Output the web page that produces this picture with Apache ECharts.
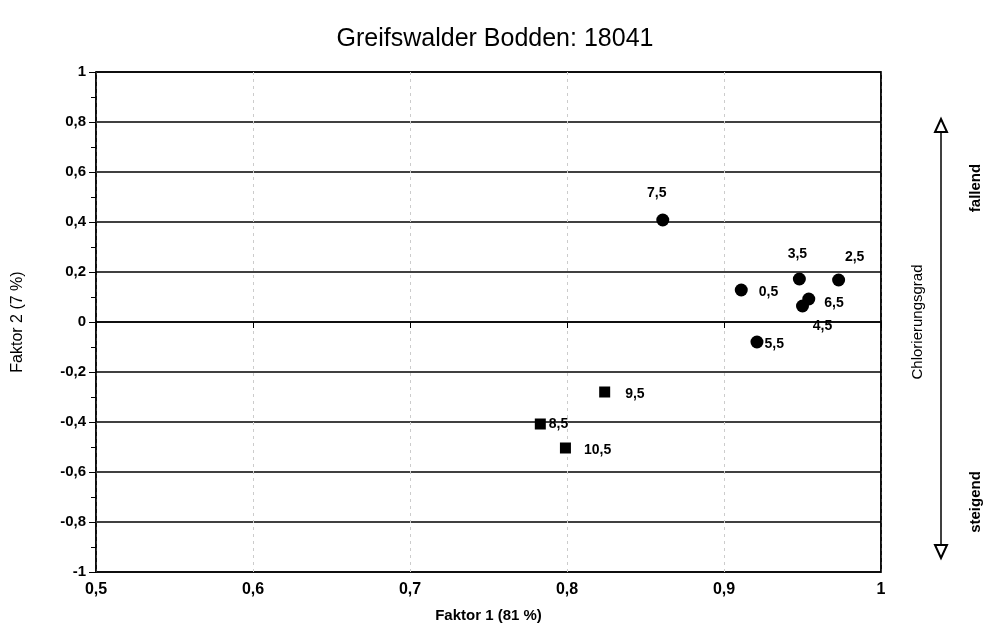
<!DOCTYPE html>
<html>
<head>
<meta charset="utf-8">
<script src="https://cdn.jsdelivr.net/npm/echarts@6/dist/echarts.min.js"></script>
<style>
  html, body { margin: 0; padding: 0; background: #fff; }
  #chart { width: 989px; height: 634px; }
</style>
</head>
<body>
<div id="chart"></div>
<script>
// Factor loadings per depth layer (cm)
const circleNames = ['0,5', '2,5', '3,5', '4,5', '5,5', '6,5', '7,5'];
const circleF1 = [0.911, 0.973, 0.948, 0.950, 0.921, 0.954, 0.861];
const circleF2 = [0.128, 0.168, 0.172, 0.064, -0.080, 0.092, 0.408];

const squareNames = ['8,5', '9,5', '10,5'];
const squareF1 = [0.783, 0.824, 0.799];
const squareF2 = [-0.408, -0.280, -0.504];

const xTicks = [0.5, 0.6, 0.7, 0.8, 0.9, 1];
const yTicks = [-1, -0.8, -0.6, -0.4, -0.2, 0, 0.2, 0.4, 0.6, 0.8, 1];

// Label placement for each point
const labelPlace = {
  '0,5': { position: 'right', offset: [6, 2] },
  '2,5': { position: 'top', offset: [16, -4] },
  '3,5': { position: 'top', offset: [-2, -6] },
  '4,5': { position: 'bottom', offset: [20, 2] },
  '5,5': { position: 'right', offset: [-4, 2] },
  '6,5': { position: 'right', offset: [4, 4] },
  '7,5': { position: 'top', offset: [-6, -8] },
  '8,5': { position: 'right', offset: [-2, 0] },
  '9,5': { position: 'right', offset: [10, 2] },
  '10,5': { position: 'right', offset: [8, 2] }
};

const fmt = v => String(v).replace('.', ',');
const FONT = 'Liberation Sans, Arial, sans-serif';

function buildData(names, xs, ys) {
  return names.map((n, i) => ({
    value: [xs[i], ys[i]],
    name: n,
    label: Object.assign({ show: true, formatter: n }, labelPlace[n])
  }));
}

const labelStyle = { fontFamily: FONT, fontSize: 14, fontWeight: 'bold', color: '#000', opacity: 1 };

const chart = echarts.init(document.getElementById('chart'));
chart.setOption({
  backgroundColor: '#fff',
  animation: false,
  title: {
    text: 'Greifswalder Bodden: 18041',
    left: 490, top: 22, textAlign: 'center',
    textStyle: { fontFamily: FONT, fontSize: 25, fontWeight: 'normal', color: '#000' }
  },
  grid: { left: 96, right: 108, top: 72, bottom: 62, show: true, borderColor: '#000', borderWidth: 1.5 },
  xAxis: {
    type: 'value', min: 0.5, max: 1, interval: 0.1,
    name: 'Faktor 1 (81 %)', nameLocation: 'middle', nameGap: 36,
    nameTextStyle: { fontFamily: FONT, fontSize: 15, fontWeight: 'bold', color: '#000' },
    axisLine: { lineStyle: { color: '#000', width: 1.5 } },
    axisTick: { show: true, length: 6, lineStyle: { color: '#000' } },
    axisLabel: {
      fontFamily: FONT, fontSize: 16, fontWeight: 'bold', color: '#000', margin: 10,
      formatter: v => xTicks.some(t => Math.abs(t - v) < 1e-9) ? fmt(+v.toFixed(1)) : ''
    },
    splitLine: { show: true, lineStyle: { color: '#ccc', width: 1, type: [3, 4] } }
  },
  yAxis: [
    {
      type: 'value', min: -1, max: 1, interval: 0.2,
      name: 'Faktor 2 (7 %)', nameLocation: 'middle', nameGap: 70, nameRotate: 90,
      nameTextStyle: { fontFamily: FONT, fontSize: 16, fontWeight: 'normal', color: '#000' },
      axisLine: { lineStyle: { color: '#000', width: 1.5 } },
      axisTick: { show: true, length: 7, lineStyle: { color: '#000' } },
      minorTick: { show: true, splitNumber: 2, length: 5, lineStyle: { color: '#000' } },
      axisLabel: {
        fontFamily: FONT, fontSize: 15, fontWeight: 'bold', color: '#000', margin: 10,
        formatter: v => yTicks.some(t => Math.abs(t - v) < 1e-9) ? fmt(+v.toFixed(1)) : ''
      },
      splitLine: { show: true, lineStyle: { color: '#000', width: 1.5 } }
    },
    {
      // right frame edge
      type: 'value', min: -1, max: 1, interval: 0.2, position: 'right',
      axisLine: { show: true, lineStyle: { color: '#000', width: 1.5 } },
      axisTick: { show: false }, axisLabel: { show: false }, splitLine: { show: false }
    }
  ],
  series: [
    {
      type: 'scatter', symbol: 'circle', symbolSize: 13,
      itemStyle: { color: '#000', opacity: 1 },
      label: labelStyle,
      data: buildData(circleNames, circleF1, circleF2)
    },
    {
      type: 'scatter', symbol: 'rect', symbolSize: 11,
      itemStyle: { color: '#000', opacity: 1 },
      label: labelStyle,
      data: buildData(squareNames, squareF1, squareF2)
    }
  ],
  graphic: [
    // Gradient arrow on the right side
    { type: 'line', shape: { x1: 941, y1: 132, x2: 941, y2: 545 }, style: { stroke: '#000', lineWidth: 1.5 } },
    { type: 'polygon', shape: { points: [[941, 119], [935, 132], [947, 132]] }, style: { fill: '#fff', stroke: '#000', lineWidth: 2 } },
    { type: 'polygon', shape: { points: [[941, 558], [935, 545], [947, 545]] }, style: { fill: '#fff', stroke: '#000', lineWidth: 2 } },
    { type: 'text', x: 918, y: 322, rotation: Math.PI / 2, style: { text: 'Chlorierungsgrad', font: '15px ' + FONT, fill: '#000', align: 'center', verticalAlign: 'middle' } },
    { type: 'text', x: 976, y: 188, rotation: Math.PI / 2, style: { text: 'fallend', font: 'bold 15px ' + FONT, fill: '#000', align: 'center', verticalAlign: 'middle' } },
    { type: 'text', x: 976, y: 502, rotation: Math.PI / 2, style: { text: 'steigend', font: 'bold 15px ' + FONT, fill: '#000', align: 'center', verticalAlign: 'middle' } }
  ]
});
</script>
</body>
</html>
